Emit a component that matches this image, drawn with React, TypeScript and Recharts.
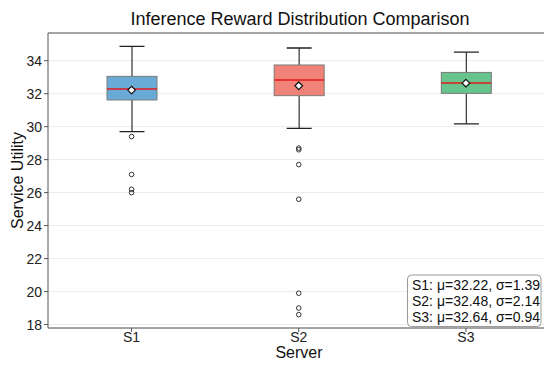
import React from 'react';
import { ComposedChart, Bar, Line, XAxis, YAxis, CartesianGrid, ReferenceLine } from 'recharts';

const categories = ['S1', 'S2', 'S3'];
const whiskerLow = [29.7, 29.9, 30.17];
const q1 = [31.62, 31.88, 32.02];
const median = [32.29, 32.83, 32.65];
const q3 = [33.05, 33.74, 33.29];
const whiskerHigh = [34.87, 34.77, 34.52];
const means = [32.22, 32.48, 32.64];
const stds = [1.39, 2.14, 0.94];
const outliers = [
  [29.4, 27.1, 26.2, 26.0],
  [28.7, 28.6, 27.7, 25.6, 19.9, 19.0, 18.6],
  [],
];
const boxColors = ['#6aaad6', '#f08278', '#66c48c'];
const yTicks = [18, 20, 22, 24, 26, 28, 30, 32, 34];
const yDomain = [17.79, 35.68];

const maxOut = Math.max(...outliers.map((o) => o.length));
const rows = categories.map((name, i) => {
  const r: any = {
    name,
    low: whiskerLow[i],
    q1: q1[i],
    median: median[i],
    q3: q3[i],
    high: whiskerHigh[i],
    mean: means[i],
    color: boxColors[i],
  };
  for (let k = 0; k < maxOut; k++) r['o' + k] = outliers[i][k] ?? null;
  return r;
});

const FONT = '"Liberation Sans", Arial, Helvetica, sans-serif';

const BoxShape = (props: any) => {
  const { x, y, width, height, payload } = props;
  if (x == null || y == null) return <g />;
  const top = Math.min(y, y + height);
  const bottom = Math.max(y, y + height);
  const lo = payload.low;
  const hi = payload.high;
  const px = (v: number) => bottom - ((v - lo) / (hi - lo)) * (bottom - top);
  const cx = x + width / 2;
  const capW = width / 2;
  const yq1 = px(payload.q1);
  const yq3 = px(payload.q3);
  const ymed = px(payload.median);
  return (
    <g>
      <line x1={cx} x2={cx} y1={px(hi)} y2={yq3} stroke="#333" strokeWidth={1.2} />
      <line x1={cx} x2={cx} y1={yq1} y2={px(lo)} stroke="#333" strokeWidth={1.2} />
      <line x1={cx - capW / 2} x2={cx + capW / 2} y1={px(hi)} y2={px(hi)} stroke="#222" strokeWidth={1.3} />
      <line x1={cx - capW / 2} x2={cx + capW / 2} y1={px(lo)} y2={px(lo)} stroke="#222" strokeWidth={1.3} />
      <rect x={x} y={yq3} width={width} height={yq1 - yq3} fill={payload.color} stroke="#7a7a7a" strokeWidth={1} />
      <line x1={x} x2={x + width} y1={ymed} y2={ymed} stroke="#e31a1c" strokeWidth={1.5} />
    </g>
  );
};

const MeanDot = (props: any) => {
  const { cx, cy, index } = props;
  if (cx == null || cy == null) return <g key={'m' + index} />;
  const r = 3.8;
  return (
    <path
      key={'m' + index}
      d={`M${cx},${cy - r}L${cx + r},${cy}L${cx},${cy + r}L${cx - r},${cy}Z`}
      fill="#fff"
      stroke="#111"
      strokeWidth={1.2}
    />
  );
};

const makeOutDot = (k: number) => (props: any) => {
  const { cx, cy, index, value } = props;
  if (cx == null || cy == null || value == null) return <g key={'o' + k + '-' + index} />;
  return <circle key={'o' + k + '-' + index} cx={cx} cy={cy} r={2.3} fill="none" stroke="#333" strokeWidth={1} />;
};

export default function App() {
  return (
    <div style={{ position: 'absolute', left: 0, top: 0, width: 544, height: 367, overflow: 'hidden', background: '#fff' }}>
      <ComposedChart
        width={560}
        height={367}
        data={rows}
        margin={{ top: 33, right: 10.5, left: 0, bottom: 0 }}
        style={{ fontFamily: FONT }}
      >
        <CartesianGrid vertical={false} stroke="#ebebeb" strokeWidth={1} />
        <XAxis
          dataKey="name"
          height={39}
          tickSize={4}
          tickMargin={0}
          stroke="#555"
          tick={{ fill: '#222', fontSize: 14, fontFamily: FONT }}
          tickLine={{ stroke: '#555' }}
        />
        <YAxis
          type="number"
          domain={yDomain}
          ticks={yTicks}
          allowDataOverflow
          width={48}
          tickSize={4}
          tickMargin={2}
          stroke="#555"
          tick={{ fill: '#222', fontSize: 14, fontFamily: FONT }}
          tickLine={{ stroke: '#555' }}
        />
        <ReferenceLine y={yDomain[1]} stroke="#555" strokeWidth={1} ifOverflow="visible" />
        <Bar
          dataKey={(d: any) => [d.low, d.high]}
          barSize={50}
          shape={BoxShape}
          isAnimationActive={false}
        />
        {Array.from({ length: maxOut }, (_, k) => (
          <Line
            key={'o' + k}
            dataKey={'o' + k}
            stroke="none"
            dot={makeOutDot(k)}
            activeDot={false}
            isAnimationActive={false}
          />
        ))}
        <Line dataKey="mean" stroke="none" dot={MeanDot} activeDot={false} isAnimationActive={false} />
      </ComposedChart>
      <svg
        width={544}
        height={367}
        style={{ position: 'absolute', left: 0, top: 0, pointerEvents: 'none', fontFamily: FONT }}
      >
        <text x={300} y={25} textAnchor="middle" fontSize={18} fill="#111">
          Inference Reward Distribution Comparison
        </text>
        <text x={23} y={180.5} textAnchor="middle" fontSize={16} fill="#111" transform="rotate(-90 23 180.5)">
          Service Utility
        </text>
        <text x={299} y={358} textAnchor="middle" fontSize={16} fill="#111">
          Server
        </text>
        <rect x={407.5} y={275} width={133.5} height={51.5} rx={4} fill="#fff" fillOpacity={0.85} stroke="#9a9a9a" strokeWidth={1} />
        {categories.map((c, i) => (
          <text key={c} x={412} y={290.3 + i * 15.75} fontSize={14} fill="#111">
            {`${c}: μ=${means[i].toFixed(2)}, σ=${stds[i].toFixed(2)}`}
          </text>
        ))}
      </svg>
    </div>
  );
}
